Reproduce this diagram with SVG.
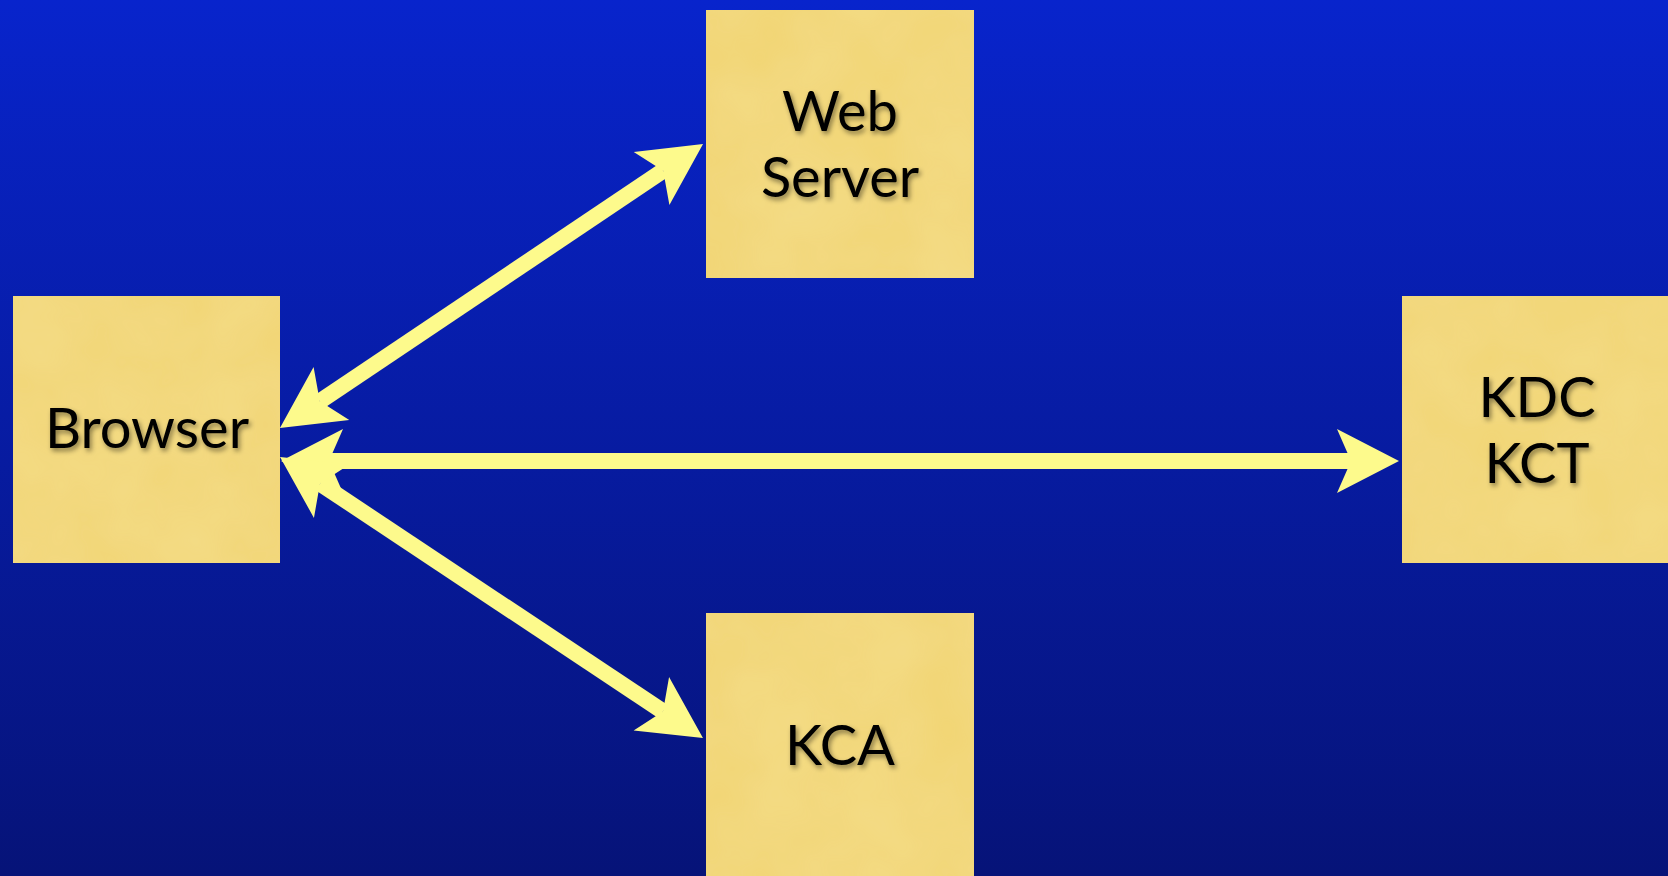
<svg xmlns="http://www.w3.org/2000/svg" width="1668" height="876" viewBox="0 0 1668 876">
  <defs>
    <linearGradient id="bg" x1="0" y1="0" x2="0" y2="1">
      <stop offset="0" stop-color="#0824cc"/>
      <stop offset="1" stop-color="#061378"/>
    </linearGradient>
    <filter id="paper" x="0" y="0" width="1" height="1">
      <feTurbulence type="fractalNoise" baseFrequency="0.012" numOctaves="3" seed="4" result="n"/>
      <feColorMatrix in="n" type="matrix" values="0 0 0 0 0.93  0 0 0 0 0.80  0 0 0 0 0.36  0 0 0 0.4 -0.05" result="c"/>
      <feComposite in="c" in2="SourceGraphic" operator="in" result="cc"/>
      <feMerge><feMergeNode in="SourceGraphic"/><feMergeNode in="cc"/></feMerge>
    </filter>
    <filter id="shadow" x="-10%" y="-20%" width="130%" height="150%">
      <feDropShadow dx="2" dy="3" stdDeviation="2.5" flood-color="#000" flood-opacity="0.45"/>
    </filter>
    <marker id="head" markerUnits="userSpaceOnUse" markerWidth="70" markerHeight="70" viewBox="-20 -35 70 70" refX="0" refY="0" orient="auto-start-reverse">
      <path d="M48,0 L-14,-32 L0,0 L-14,32 Z" fill="#fdfa8c"/>
    </marker>
    <style>
      .box { fill: #f2d676; }
      .lbl { font-family: Lato, "Open Sans", "Liberation Sans", sans-serif; font-size: 56px; fill: #000; text-anchor: middle; filter: url(#shadow); }
      .conn { stroke: #fdfa8c; stroke-width: 16; fill: none; marker-start: url(#head); marker-end: url(#head); }
    </style>
  </defs>
  <rect width="1668" height="876" fill="url(#bg)"/>

  <g id="connectors">
    <line class="conn" x1="319.8" y1="401.3" x2="663.2" y2="170.7"/>
    <line class="conn" x1="329" y1="461" x2="1351" y2="461"/>
    <line class="conn" x1="320" y1="483.5" x2="663" y2="711.5"/>
  </g>

  <g id="web-server">
    <rect class="box" x="706" y="10" width="268" height="268" filter="url(#paper)"/>
    <text class="lbl" x="840" y="131">Web</text>
    <text class="lbl" x="840" y="197">Server</text>
  </g>

  <g id="browser">
    <rect class="box" x="13" y="296" width="267" height="267" filter="url(#paper)"/>
    <text class="lbl" x="147" y="448">Browser</text>
  </g>

  <g id="kdc-kct">
    <rect class="box" x="1402" y="296" width="266" height="267" filter="url(#paper)"/>
    <text class="lbl" x="1537" y="417">KDC</text>
    <text class="lbl" x="1537" y="483">KCT</text>
  </g>

  <g id="kca">
    <rect class="box" x="706" y="613" width="268" height="263" filter="url(#paper)"/>
    <text class="lbl" x="840" y="765">KCA</text>
  </g>
</svg>
